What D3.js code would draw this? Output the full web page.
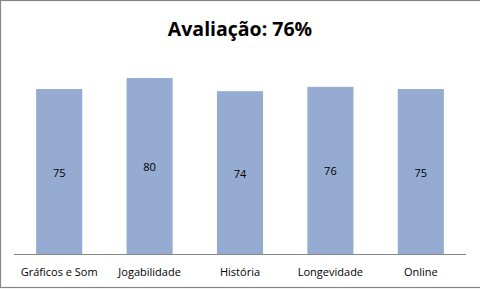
<!DOCTYPE html>
<html>
<head>
<meta charset="utf-8">
<script src="https://cdn.jsdelivr.net/npm/d3@7"></script>
<style>
  body { margin: 0; background: #fff; }
  svg { display: block; }
</style>
</head>
<body>
<script>
const title = "Avaliação: 76%";
const categories = ["Gráficos e Som", "Jogabilidade", "História", "Longevidade", "Online"];
const values = [75, 80, 74, 76, 75];

const width = 480, height = 289;
const font = "'Open Sans', 'Noto Sans', sans-serif";

const svg = d3.select("body").append("svg")
    .attr("width", width)
    .attr("height", height);

svg.append("rect")
    .attr("width", width).attr("height", height)
    .attr("fill", "#fff");

// chart frame (right edge falls outside the picture)
svg.append("rect")
    .attr("x", 0.5).attr("y", 0.5)
    .attr("width", 495).attr("height", 287)
    .attr("fill", "none")
    .attr("stroke", "#868686")
    .attr("stroke-width", 1.2);

svg.append("text")
    .attr("x", 240).attr("y", 36)
    .attr("text-anchor", "middle")
    .attr("font-family", font)
    .attr("font-weight", "bold")
    .attr("font-size", 19.5)
    .attr("fill", "#000")
    .text(title);

const x = d3.scaleBand()
    .domain(categories)
    .range([14, 466])
    .paddingInner(0.49)
    .paddingOuter(0.245);

const y = d3.scaleLinear()
    .domain([0, 100])
    .range([254, 34]);

svg.append("g")
    .selectAll("rect")
    .data(values)
    .join("rect")
    .attr("x", (d, i) => x(categories[i]))
    .attr("y", d => y(d))
    .attr("width", x.bandwidth())
    .attr("height", d => y(0) - y(d))
    .attr("fill", "#95abd1");

svg.append("g")
    .selectAll("text")
    .data(values)
    .join("text")
    .attr("x", (d, i) => x(categories[i]) + x.bandwidth() / 2)
    .attr("y", d => (y(d) + y(0)) / 2 + 5)
    .attr("text-anchor", "middle")
    .attr("font-family", font)
    .attr("font-size", 11)
    .attr("fill", "#000")
    .text(d => d);

const axis = svg.append("g")
    .attr("transform", `translate(0,${y(0)})`)
    .call(d3.axisBottom(x).tickSize(0).tickPadding(14));

axis.select(".domain")
    .attr("stroke", "#868686")
    .attr("d", `M14,0.5H466`);

axis.selectAll("text")
    .attr("font-family", font)
    .attr("font-size", 11)
    .attr("fill", "#000");
</script>
</body>
</html>
